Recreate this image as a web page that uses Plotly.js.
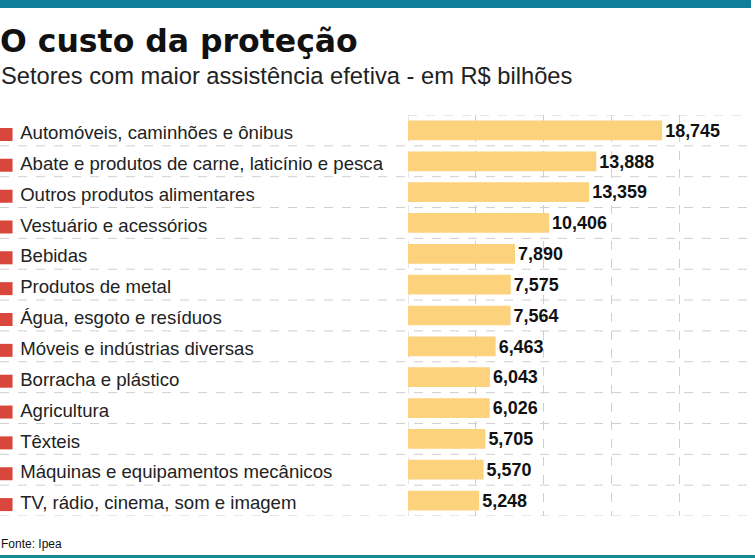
<!DOCTYPE html>
<html>
<head>
<meta charset="utf-8">
<script src="https://cdn.plot.ly/plotly-3.0.1.min.js"></script>
<style>
  html, body { margin: 0; padding: 0; background: #ffffff; }
  #chart { width: 755px; height: 558px; }
</style>
</head>
<body>
<div id="chart"></div>
<script>
// Setores e assistência efetiva (R$ bilhões)
const setores = [
  "Automóveis, caminhões e ônibus",
  "Abate e produtos de carne, laticínio e pesca",
  "Outros produtos alimentares",
  "Vestuário e acessórios",
  "Bebidas",
  "Produtos de metal",
  "Água, esgoto e resíduos",
  "Móveis e indústrias diversas",
  "Borracha e plástico",
  "Agricultura",
  "Têxteis",
  "Máquinas e equipamentos mecânicos",
  "TV, rádio, cinema, som e imagem"
];
const valores = [18.745, 13.888, 13.359, 10.406, 7.890, 7.575, 7.564, 6.463, 6.043, 6.026, 5.705, 5.570, 5.248];
const gradeX = [0, 5, 10, 15, 20, 25];

const titulo = "O custo da proteção";
const subtitulo = "Setores com maior assistência efetiva - em R$ bilhões";
const fonte = "Fonte: Ipea";

// valores no formato brasileiro (vírgula decimal)
const rotulos = valores.map(v => v.toFixed(3).replace(".", ","));

const AMARELO = "#fcd27c";
const VERMELHO = "#d9463b";
const GRADE = "#cfcfcf";
const n = setores.length;

const barras = {
  type: "bar",
  orientation: "h",
  x: valores,
  y: setores,
  xaxis: "x",
  yaxis: "y",
  marker: { color: AMARELO },
  text: rotulos,
  textposition: "outside",
  cliponaxis: false,
  textfont: { family: "Liberation Sans, Arial, sans-serif", size: 20, color: "#111111", weight: "bold" },
  hoverinfo: "skip"
};

// coluna de nomes, com marcador vermelho
const marcadores = {
  type: "scatter",
  mode: "markers",
  x: setores.map(() => 0.015),
  y: setores,
  xaxis: "x2",
  yaxis: "y2",
  marker: { symbol: "square", size: 13, color: VERMELHO },
  hoverinfo: "skip"
};
const nomes = {
  type: "scatter",
  mode: "text",
  x: setores.map(() => 0.05),
  y: setores,
  xaxis: "x2",
  yaxis: "y2",
  text: setores,
  textposition: "middle right",
  cliponaxis: false,
  textfont: { family: "Liberation Sans, Arial, sans-serif", size: 18.6, color: "#222222" },
  hoverinfo: "skip"
};

// linhas tracejadas entre as linhas da tabela
const shapes = [];
shapes.push({
  type: "line", xref: "x", yref: "y", x0: 0, x1: 25, y0: -0.5, y1: -0.5,
  line: { color: GRADE, width: 1, dash: "dash" }
});
shapes.push({
  type: "line", xref: "x", yref: "y", x0: 0, x1: 0, y0: -0.5, y1: n - 0.5,
  line: { color: GRADE, width: 1, dash: "dash" }, layer: "below"
});
for (let i = 0; i < n; i++) {
  shapes.push({
    type: "line", xref: "paper", yref: "y", x0: 0, x1: 1, y0: i + 0.5, y1: i + 0.5,
    line: { color: GRADE, width: 1, dash: "dash" }
  });
}
// faixas azuis do topo e da base
shapes.push({ type: "rect", xref: "paper", yref: "paper", x0: 0, x1: 751 / 747, y0: 516 / 401, y1: 508 / 401,
  line: { width: 0 }, fillcolor: "#0f7f9b", layer: "above" });
shapes.push({ type: "rect", xref: "paper", yref: "paper", x0: 0, x1: 755 / 747, y0: -39 / 401, y1: -43 / 401,
  line: { width: 0 }, fillcolor: "#178a93", layer: "above" });

const layout = {
  width: 755,
  height: 558,
  margin: { l: 0, r: 8, t: 115, b: 42 },
  paper_bgcolor: "#ffffff",
  plot_bgcolor: "#ffffff",
  showlegend: false,
  bargap: 0.36,
  xaxis: {
    domain: [408 / 747, 1],
    range: [0, 25],
    tickvals: gradeX,
    showticklabels: false,
    ticks: "",
    showgrid: true,
    gridcolor: GRADE,
    griddash: "dash",
    gridwidth: 1,
    zeroline: false,
    showline: false,
    fixedrange: true
  },
  yaxis: {
    type: "category",
    categoryorder: "array",
    categoryarray: setores,
    range: [n - 0.5, -0.5],
    showticklabels: false,
    ticks: "",
    showgrid: false,
    zeroline: false,
    fixedrange: true
  },
  xaxis2: {
    domain: [0, 0.54],
    range: [0, 1],
    anchor: "y2",
    visible: false,
    fixedrange: true
  },
  yaxis2: {
    type: "category",
    categoryorder: "array",
    categoryarray: setores,
    overlaying: "y",
    range: [n - 0.5 - 0.13, -0.5 - 0.13],
    visible: false,
    fixedrange: true
  },
  shapes: shapes,
  annotations: [
    {
      text: titulo, xref: "paper", yref: "paper", x: 0, y: (516 - 41) / 401,
      xanchor: "left", yanchor: "middle", showarrow: false, xshift: -2,
      font: { family: "DejaVu Sans, sans-serif", size: 31.5, color: "#111111", weight: "bold" }
    },
    {
      text: subtitulo, xref: "paper", yref: "paper", x: 0, y: (516 - 76) / 401,
      xanchor: "left", yanchor: "middle", showarrow: false, xshift: -1,
      font: { family: "Liberation Sans, Arial, sans-serif", size: 23.7, color: "#222222" }
    },
    {
      text: fonte, xref: "paper", yref: "paper", x: 0, y: (516 - 544) / 401,
      xanchor: "left", yanchor: "middle", showarrow: false, xshift: -1,
      font: { family: "Liberation Sans Narrow, Liberation Sans, sans-serif", size: 12, color: "#111111" }
    }
  ]
};

Plotly.newPlot("chart", [barras, marcadores, nomes], layout, { displayModeBar: false, staticPlot: true });
</script>
</body>
</html>
